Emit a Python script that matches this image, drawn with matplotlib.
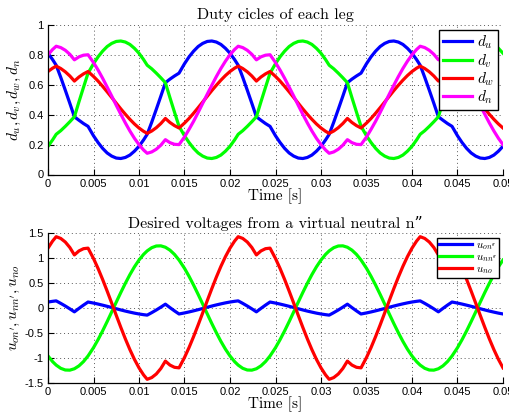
import matplotlib
matplotlib.use("Agg")
import matplotlib.pyplot as plt

plt.rcParams["mathtext.fontset"] = "cm"

# sample instants [s]
time = [
    0.0000, 0.0005, 0.0009, 0.0014, 0.0019, 0.0024, 0.0029, 0.0034, 0.0039, 0.0044,
    0.0050, 0.0055, 0.0060, 0.0065, 0.0070, 0.0075, 0.0080, 0.0085, 0.0090, 0.0095,
    0.0100, 0.0105, 0.0109, 0.0114, 0.0119, 0.0124, 0.0129, 0.0134, 0.0139, 0.0144,
    0.0150, 0.0155, 0.0160, 0.0165, 0.0170, 0.0175, 0.0180, 0.0185, 0.0190, 0.0195,
    0.0200, 0.0205, 0.0209, 0.0214, 0.0219, 0.0224, 0.0229, 0.0234, 0.0239, 0.0244,
    0.0250, 0.0255, 0.0260, 0.0265, 0.0270, 0.0275, 0.0280, 0.0285, 0.0290, 0.0295,
    0.0300, 0.0305, 0.0309, 0.0314, 0.0319, 0.0324, 0.0329, 0.0334, 0.0339, 0.0344,
    0.0350, 0.0355, 0.0360, 0.0365, 0.0370, 0.0375, 0.0380, 0.0385, 0.0390, 0.0395,
    0.0400, 0.0405, 0.0409, 0.0414, 0.0419, 0.0424, 0.0429, 0.0434, 0.0439, 0.0444,
    0.0450, 0.0455, 0.0460, 0.0465, 0.0470, 0.0475, 0.0480, 0.0485, 0.0490, 0.0495,
    0.0500,
]

# duty cycles of the four legs
d_u = [
    0.811, 0.769, 0.731, 0.650, 0.564, 0.476, 0.386, 0.363, 0.341, 0.322,
    0.259, 0.214, 0.175, 0.144, 0.123, 0.110, 0.107, 0.114, 0.130, 0.156,
    0.189, 0.231, 0.269, 0.350, 0.436, 0.524, 0.614, 0.638, 0.659, 0.678,
    0.741, 0.787, 0.825, 0.856, 0.877, 0.890, 0.893, 0.886, 0.870, 0.844,
    0.811, 0.769, 0.731, 0.650, 0.564, 0.476, 0.386, 0.363, 0.341, 0.322,
    0.259, 0.214, 0.175, 0.144, 0.123, 0.110, 0.107, 0.114, 0.130, 0.156,
    0.189, 0.231, 0.269, 0.350, 0.436, 0.524, 0.614, 0.638, 0.659, 0.678,
    0.741, 0.787, 0.825, 0.856, 0.877, 0.890, 0.893, 0.886, 0.870, 0.844,
    0.811, 0.769, 0.731, 0.650, 0.564, 0.476, 0.386, 0.363, 0.341, 0.322,
    0.259, 0.214, 0.175, 0.144, 0.123, 0.110, 0.107, 0.114, 0.130, 0.156,
    0.189,
]
d_v = [
    0.189, 0.231, 0.269, 0.293, 0.322, 0.353, 0.386, 0.486, 0.583, 0.678,
    0.741, 0.787, 0.825, 0.856, 0.877, 0.890, 0.893, 0.886, 0.870, 0.844,
    0.811, 0.769, 0.731, 0.707, 0.678, 0.647, 0.614, 0.514, 0.417, 0.322,
    0.259, 0.214, 0.175, 0.144, 0.123, 0.110, 0.107, 0.114, 0.130, 0.156,
    0.189, 0.231, 0.269, 0.293, 0.322, 0.353, 0.386, 0.486, 0.583, 0.678,
    0.741, 0.787, 0.825, 0.856, 0.877, 0.890, 0.893, 0.886, 0.870, 0.844,
    0.811, 0.769, 0.731, 0.707, 0.678, 0.647, 0.614, 0.514, 0.417, 0.322,
    0.259, 0.214, 0.175, 0.144, 0.123, 0.110, 0.107, 0.114, 0.130, 0.156,
    0.189, 0.231, 0.269, 0.293, 0.322, 0.353, 0.386, 0.486, 0.583, 0.678,
    0.741, 0.787, 0.825, 0.856, 0.877, 0.890, 0.893, 0.886, 0.870, 0.844,
    0.811,
]
d_w = [
    0.689, 0.711, 0.725, 0.709, 0.687, 0.659, 0.625, 0.652, 0.673, 0.689,
    0.656, 0.625, 0.590, 0.553, 0.515, 0.477, 0.439, 0.403, 0.369, 0.338,
    0.311, 0.289, 0.275, 0.291, 0.313, 0.341, 0.375, 0.348, 0.327, 0.311,
    0.344, 0.375, 0.410, 0.447, 0.485, 0.523, 0.561, 0.597, 0.631, 0.662,
    0.689, 0.711, 0.725, 0.709, 0.687, 0.659, 0.625, 0.652, 0.673, 0.689,
    0.656, 0.625, 0.590, 0.553, 0.515, 0.477, 0.439, 0.403, 0.369, 0.338,
    0.311, 0.289, 0.275, 0.291, 0.313, 0.341, 0.375, 0.348, 0.327, 0.311,
    0.344, 0.375, 0.410, 0.447, 0.485, 0.523, 0.561, 0.597, 0.631, 0.662,
    0.689, 0.711, 0.725, 0.709, 0.687, 0.659, 0.625, 0.652, 0.673, 0.689,
    0.656, 0.625, 0.590, 0.553, 0.515, 0.477, 0.439, 0.403, 0.369, 0.338,
    0.311,
]
d_n = [
    0.801, 0.836, 0.858, 0.849, 0.831, 0.804, 0.767, 0.787, 0.798, 0.801,
    0.749, 0.699, 0.644, 0.585, 0.525, 0.463, 0.403, 0.345, 0.291, 0.242,
    0.200, 0.164, 0.142, 0.151, 0.169, 0.196, 0.233, 0.213, 0.202, 0.200,
    0.251, 0.302, 0.356, 0.415, 0.476, 0.537, 0.597, 0.655, 0.709, 0.758,
    0.801, 0.836, 0.858, 0.849, 0.831, 0.804, 0.767, 0.787, 0.798, 0.801,
    0.749, 0.699, 0.644, 0.585, 0.525, 0.463, 0.403, 0.345, 0.291, 0.242,
    0.200, 0.164, 0.142, 0.151, 0.169, 0.196, 0.233, 0.213, 0.202, 0.200,
    0.251, 0.302, 0.356, 0.415, 0.476, 0.537, 0.597, 0.655, 0.709, 0.758,
    0.801, 0.836, 0.858, 0.849, 0.831, 0.804, 0.767, 0.787, 0.798, 0.801,
    0.749, 0.699, 0.644, 0.585, 0.525, 0.463, 0.403, 0.345, 0.291, 0.242,
    0.200,
]

# desired voltages referred to the virtual neutral
u_on = [
    0.120, 0.134, 0.143, 0.093, 0.040, -0.017, -0.077, -0.008, 0.058, 0.120,
    0.099, 0.079, 0.057, 0.034, 0.010, -0.015, -0.039, -0.062, -0.083, -0.103,
    -0.120, -0.134, -0.143, -0.093, -0.040, 0.017, 0.077, 0.008, -0.058, -0.120,
    -0.099, -0.079, -0.057, -0.034, -0.010, 0.015, 0.039, 0.062, 0.083, 0.103,
    0.120, 0.134, 0.143, 0.093, 0.040, -0.017, -0.077, -0.008, 0.058, 0.120,
    0.099, 0.079, 0.057, 0.034, 0.010, -0.015, -0.039, -0.062, -0.083, -0.103,
    -0.120, -0.134, -0.143, -0.093, -0.040, 0.017, 0.077, 0.008, -0.058, -0.120,
    -0.099, -0.079, -0.057, -0.034, -0.010, 0.015, 0.039, 0.062, 0.083, 0.103,
    0.120, 0.134, 0.143, 0.093, 0.040, -0.017, -0.077, -0.008, 0.058, 0.120,
    0.099, 0.079, 0.057, 0.034, 0.010, -0.015, -0.039, -0.062, -0.083, -0.103,
    -0.120,
]
u_nn = [
    -0.963, -1.076, -1.147, -1.211, -1.245, -1.248, -1.220, -1.162, -1.076, -0.963,
    -0.797, -0.636, -0.460, -0.273, -0.079, 0.118, 0.311, 0.496, 0.670, 0.827,
    0.963, 1.076, 1.147, 1.211, 1.245, 1.248, 1.220, 1.162, 1.076, 0.963,
    0.797, 0.636, 0.460, 0.273, 0.079, -0.118, -0.311, -0.496, -0.670, -0.827,
    -0.963, -1.076, -1.147, -1.211, -1.245, -1.248, -1.220, -1.162, -1.076, -0.963,
    -0.797, -0.636, -0.460, -0.273, -0.079, 0.118, 0.311, 0.496, 0.670, 0.827,
    0.963, 1.076, 1.147, 1.211, 1.245, 1.248, 1.220, 1.162, 1.076, 0.963,
    0.797, 0.636, 0.460, 0.273, 0.079, -0.118, -0.311, -0.496, -0.670, -0.827,
    -0.963, -1.076, -1.147, -1.211, -1.245, -1.248, -1.220, -1.162, -1.076, -0.963,
    -0.797, -0.636, -0.460, -0.273, -0.079, 0.118, 0.311, 0.496, 0.670, 0.827,
    0.963,
]
u_no = [
    1.202, 1.343, 1.432, 1.397, 1.325, 1.215, 1.066, 1.146, 1.191, 1.202,
    0.994, 0.794, 0.574, 0.340, 0.098, -0.147, -0.388, -0.620, -0.836, -1.032,
    -1.202, -1.343, -1.432, -1.397, -1.325, -1.215, -1.066, -1.146, -1.191, -1.202,
    -0.994, -0.794, -0.574, -0.340, -0.098, 0.147, 0.388, 0.620, 0.836, 1.032,
    1.202, 1.343, 1.432, 1.397, 1.325, 1.215, 1.066, 1.146, 1.191, 1.202,
    0.994, 0.794, 0.574, 0.340, 0.098, -0.147, -0.388, -0.620, -0.836, -1.032,
    -1.202, -1.343, -1.432, -1.397, -1.325, -1.215, -1.066, -1.146, -1.191, -1.202,
    -0.994, -0.794, -0.574, -0.340, -0.098, 0.147, 0.388, 0.620, 0.836, 1.032,
    1.202, 1.343, 1.432, 1.397, 1.325, 1.215, 1.066, 1.146, 1.191, 1.202,
    0.994, 0.794, 0.574, 0.340, 0.098, -0.147, -0.388, -0.620, -0.836, -1.032,
    -1.202,
]

x_ticks = [0, 0.005, 0.01, 0.015, 0.02, 0.025, 0.03, 0.035, 0.04, 0.045, 0.05]
x_tick_labels = ["0", "0.005", "0.01", "0.015", "0.02", "0.025", "0.03",
                 "0.035", "0.04", "0.045", "0.05"]
y1_ticks = [0, 0.2, 0.4, 0.6, 0.8, 1]
y1_tick_labels = ["0", "0.2", "0.4", "0.6", "0.8", "1"]
y2_ticks = [-1.5, -1, -0.5, 0, 0.5, 1, 1.5]
y2_tick_labels = ["-1.5", "-1", "-0.5", "0", "0.5", "1", "1.5"]

W, H = 509, 418
fig = plt.figure(figsize=(W / 100, H / 100), dpi=100)

serif = ["cmr10", "DejaVu Serif"]
tick_font = "Liberation Sans"
lw = 2.3


def style_axes(ax, yticks, ylabels, ylim):
    ax.set_xlim(0, 0.05)
    ax.set_ylim(*ylim)
    ax.set_xticks(x_ticks)
    ax.set_xticklabels(x_tick_labels, fontname=tick_font, fontsize=8)
    ax.set_yticks(yticks)
    ax.set_yticklabels(ylabels, fontname=tick_font, fontsize=8)
    ax.tick_params(direction="in", length=4, width=0.8, pad=3,
                   top=False, right=False)
    ax.spines["top"].set_visible(False)
    ax.spines["right"].set_visible(False)
    for s in ("left", "bottom"):
        ax.spines[s].set_linewidth(0.9)
    ax.grid(True, linestyle=(0, (1, 3)), color="0.35", linewidth=0.7)
    ax.set_axisbelow(True)
    ax.set_xlabel("Time [s]", family=serif, fontsize=11, labelpad=0)


# --- duty cycles ---
ax1 = fig.add_axes([48 / W, 1 - 174.5 / H, 455 / W, 149.5 / H])
ax1.plot(time, d_u, color=(0, 0, 1), lw=lw, label=r"$d_u$")
ax1.plot(time, d_v, color=(0, 1, 0), lw=lw, label=r"$d_v$")
ax1.plot(time, d_w, color=(1, 0, 0), lw=lw, label=r"$d_w$")
ax1.plot(time, d_n, color=(1, 0, 1), lw=lw, label=r"$d_n$")
style_axes(ax1, y1_ticks, y1_tick_labels, (0, 1))
ax1.set_title("Duty cicles of each leg", family=serif, fontsize=11.5, pad=4)
ax1.set_ylabel(r"$d_u,d_v,d_w,d_n$", fontsize=11, labelpad=4)
leg1 = ax1.legend(loc="upper right", bbox_to_anchor=(0.989, 0.967),
                  fontsize=11, handlelength=1.9, handletextpad=0.3,
                  labelspacing=0.05, borderpad=0.25, borderaxespad=0,
                  fancybox=False, framealpha=1, edgecolor="black")
leg1.get_frame().set_linewidth(1.0)

# --- voltages ---
ax2 = fig.add_axes([48 / W, 1 - 382.7 / H, 455 / W, 149.4 / H])
ax2.plot(time, u_on, color=(0, 0, 1), lw=lw, label=r"$u_{on''}$")
ax2.plot(time, u_nn, color=(0, 1, 0), lw=lw, label=r"$u_{nn''}$")
ax2.plot(time, u_no, color=(1, 0, 0), lw=lw, label=r"$u_{no}$")
style_axes(ax2, y2_ticks, y2_tick_labels, (-1.5, 1.5))
ax2.set_title("Desired voltages from a virtual neutral n\u201d",
              family=serif, fontsize=11.5, pad=4)
ax2.set_ylabel(r"$u_{on'},u_{nn'},u_{no}$", fontsize=11, labelpad=2)
leg2 = ax2.legend(loc="upper right", bbox_to_anchor=(0.991, 0.969),
                  fontsize=8, handlelength=3.0, handletextpad=0.3,
                  labelspacing=0.0, borderpad=0.2, borderaxespad=0,
                  fancybox=False, framealpha=1, edgecolor="black")
leg2.get_frame().set_linewidth(1.0)

fig.savefig("out.png", dpi=100)
